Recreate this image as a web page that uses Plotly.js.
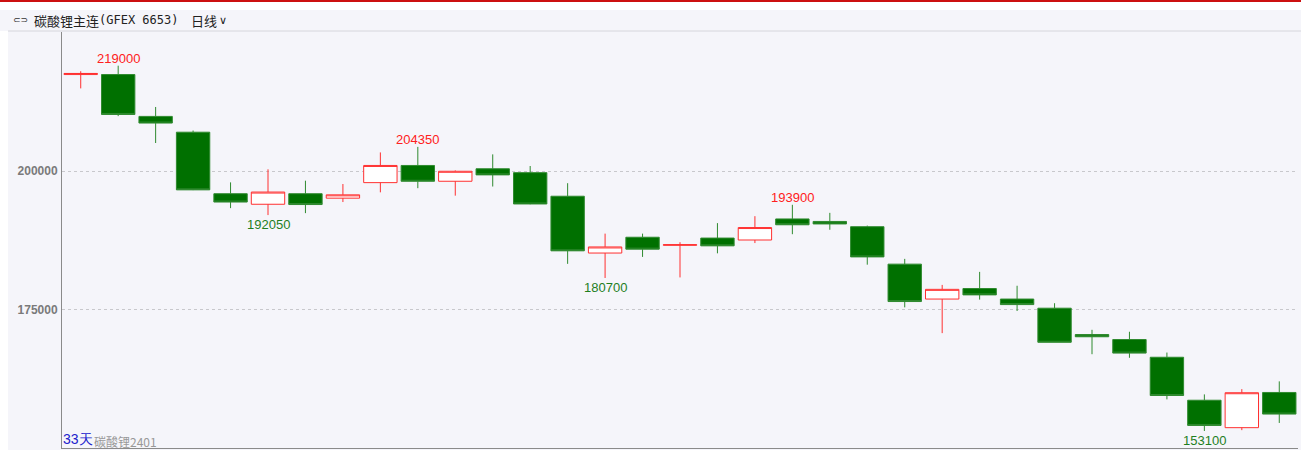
<!DOCTYPE html>
<html>
<head>
<meta charset="utf-8">
<script src="https://cdn.plot.ly/plotly-3.0.1.min.js"></script>
<style>
  html, body { margin: 0; padding: 0; background: #ffffff; }
  #chart { width: 1301px; height: 450px; }
</style>
</head>
<body>
<div id="chart"></div>
<script>
// ---- data ----
const openP  = [217400, 217400, 209850, 207000, 195900, 194000, 195900, 195100, 197900, 201000,
                198150, 200400, 199700, 195450, 185200, 188050, 186600, 187900, 187550, 191350,
                190900, 189950, 183200, 176900, 178800, 176900, 175250, 170500, 169600, 166400,
                158650, 153700, 160050];
const highP  = [218000, 219000, 211550, 207300, 197950, 200300, 198250, 197650, 203350, 204350,
                200100, 203000, 200900, 197800, 188700, 188700, 187150, 190600, 191850, 193900,
                192450, 190150, 184150, 179450, 181800, 179300, 176150, 171350, 171000, 167250,
                159700, 160650, 162050];
const lowP   = [214900, 209900, 205050, 196550, 193300, 192050, 192400, 194400, 196150, 196900,
                195550, 197200, 194000, 183250, 180700, 184500, 180800, 185150, 187000, 188600,
                189400, 183100, 175400, 170750, 176800, 174750, 169100, 166950, 166300, 158800,
                153100, 153250, 154550];
const closeP = [217600, 210200, 208650, 196600, 194400, 196200, 193950, 195700, 201000, 198150,
                199950, 199300, 194050, 185600, 186300, 185900, 186700, 186500, 189800, 190300,
                190450, 184500, 176450, 178650, 177650, 175900, 169100, 170100, 167150, 159500,
                154100, 160000, 156150];
const dayIdx = openP.map((_, i) => i);

// labelled extremes: [candle index, price]
const highLabels = [[1, 219000], [9, 204350], [19, 193900]];
const lowLabels  = [[5, 192050], [14, 180700], [30, 153100]];

const yTicks = [175000, 200000];
const yTickText = ['175000', '200000'];

const titleMain = '碳酸锂主连';
const titleCode = '(GFEX 6653)';
const periodText = '日线';
const daysText = '33天';
const contractText = '碳酸锂2401';

// ---- chart ----
const bg = '#f5f5fa';
const trace = {
  type: 'candlestick',
  x: dayIdx,
  open: openP, high: highP, low: lowP, close: closeP,
  increasing: { line: { color: '#ff3030', width: 1 }, fillcolor: '#ffffff' },
  decreasing: { line: { color: '#2f8a2f', width: 1 }, fillcolor: '#007000' },
  whiskerwidth: 0,
  hoverinfo: 'none',
  showlegend: false
};

// pixel -> paper helpers for decoration (plot area 62..1298 x 32..448)
const px = x => (x - 62) / 1236;
const py = y => (448 - y) / 416;

const annotations = [];
highLabels.forEach(([i, v]) => annotations.push({
  x: i, y: v, xref: 'x', yref: 'y', text: String(v), showarrow: false,
  yanchor: 'bottom', yshift: -2,
  font: { family: 'Liberation Sans, Arial, sans-serif', size: 13, color: '#ff2020' }
}));
lowLabels.forEach(([i, v]) => annotations.push({
  x: i, y: v, xref: 'x', yref: 'y', text: String(v), showarrow: false,
  yanchor: 'top', yshift: 0,
  font: { family: 'Liberation Sans, Arial, sans-serif', size: 13, color: '#1f7f1f' }
}));

// header
annotations.push({ xref: 'paper', yref: 'paper', x: px(11), y: py(20), xanchor: 'left', yanchor: 'middle',
  text: '⊂⊃', showarrow: false, font: { family: 'DejaVu Sans', size: 9, color: '#333' } });
annotations.push({ xref: 'paper', yref: 'paper', x: px(32), y: py(20), xanchor: 'left', yanchor: 'middle',
  text: titleMain, showarrow: false, font: { family: 'Noto Sans CJK SC', size: 13, color: '#222' } });
annotations.push({ xref: 'paper', yref: 'paper', x: px(97), y: py(20), xanchor: 'left', yanchor: 'middle',
  text: titleCode, showarrow: false, font: { family: 'DejaVu Sans Mono', size: 12, color: '#222' } });
annotations.push({ xref: 'paper', yref: 'paper', x: px(189), y: py(20), xanchor: 'left', yanchor: 'middle',
  text: periodText, showarrow: false, font: { family: 'Noto Sans CJK SC', size: 13, color: '#222' } });
annotations.push({ xref: 'paper', yref: 'paper', x: px(217), y: py(20), xanchor: 'left', yanchor: 'middle',
  text: '∨', showarrow: false, font: { family: 'DejaVu Sans', size: 11, color: '#222' } });

// bottom-left
annotations.push({ xref: 'paper', yref: 'paper', x: px(92), y: py(441), xanchor: 'left', yanchor: 'middle',
  text: contractText, showarrow: false, font: { family: 'Noto Sans CJK SC', size: 12, color: '#999' } });
annotations.push({ xref: 'paper', yref: 'paper', x: px(61), y: py(439), xanchor: 'left', yanchor: 'middle',
  text: daysText, showarrow: false, font: { family: 'Liberation Sans, Arial', size: 14, color: '#2222cc' } });

const shapes = [
  { type: 'rect', xref: 'paper', yref: 'paper', x0: -0.06, x1: 1.01, y0: py(10), y1: py(-2), fillcolor: '#ffffff', line: { width: 0 }, layer: 'below' },
  { type: 'rect', xref: 'paper', yref: 'paper', x0: -0.06, x1: 1.01, y0: py(2), y1: py(-2), fillcolor: '#cc1010', line: { width: 0 }, layer: 'below' },
  { type: 'rect', xref: 'paper', yref: 'paper', x0: -0.06, x1: px(8), y0: py(452), y1: py(31), fillcolor: '#ffffff', line: { width: 0 }, layer: 'below' },
  { type: 'line', xref: 'paper', yref: 'paper', x0: px(8), x1: 1.01, y0: py(31), y1: py(31), line: { color: '#d6d6dc', width: 1 } }
];

const layout = {
  width: 1301, height: 450,
  margin: { l: 62, r: 3, t: 32, b: 2 },
  paper_bgcolor: bg, plot_bgcolor: bg,
  showlegend: false,
  boxgap: 0.1, boxgroupgap: 0.01,
  xaxis: {
    type: 'linear', range: [-0.5, 32.5], showgrid: false, zeroline: false,
    showticklabels: false, ticks: '', showline: true, linecolor: '#8a8a8a', linewidth: 1,
    rangeslider: { visible: false }, fixedrange: true
  },
  yaxis: {
    range: [150030, 225075], tickvals: yTicks, ticktext: yTickText,
    showgrid: true, gridcolor: '#c8c8cc', griddash: '3px,3px', gridwidth: 1,
    zeroline: false, showline: true, linecolor: '#8a8a8a', linewidth: 1, ticks: '',
    ticklabelstandoff: 1,
    tickfont: { family: 'Liberation Sans, Arial, sans-serif', size: 12, color: '#7a7a7a', weight: 'bold' },
    fixedrange: true
  },
  annotations: annotations,
  shapes: shapes
};

Plotly.newPlot('chart', [trace], layout, { displayModeBar: false, staticPlot: true });
</script>
</body>
</html>
